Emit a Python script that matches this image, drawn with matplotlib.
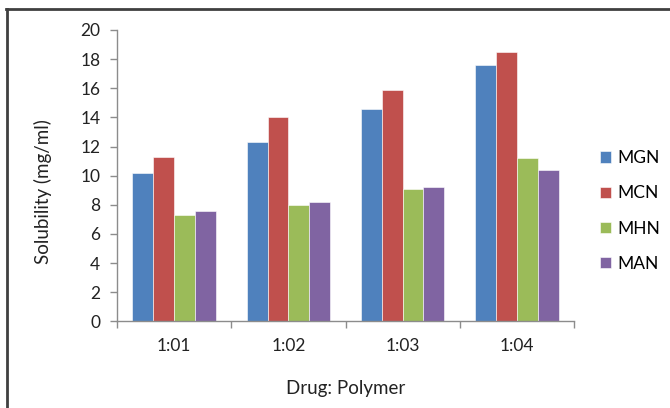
import matplotlib
matplotlib.use("Agg")
import matplotlib.pyplot as plt
import numpy as np
from matplotlib.lines import Line2D

categories = ["1:01", "1:02", "1:03", "1:04"]
series_names = ["MGN", "MCN", "MHN", "MAN"]
MGN = [10.2, 12.3, 14.6, 17.6]
MCN = [11.3, 14.0, 15.9, 18.5]
MHN = [7.3, 8.0, 9.05, 11.2]
MAN = [7.55, 8.2, 9.25, 10.4]
colors = ["#4F81BD", "#C0504D", "#9BBB59", "#8064A2"]
y_ticks = [0, 2, 4, 6, 8, 10, 12, 14, 16, 18, 20]

plt.rcParams['font.family'] = ['Lato', 'DejaVu Sans']

fig = plt.figure(figsize=(6.7, 4.08), dpi=100)
ax = fig.add_axes([117/670, 1-321.3/408, (574-117)/670, (321.3-30)/408])

data = [MGN, MCN, MHN, MAN]
x = np.arange(len(categories))
group_w = 0.73
bw = group_w / 4
for i, (name, vals) in enumerate(zip(series_names, data)):
    ax.bar(x - group_w/2 + bw*(i+0.5), vals, width=bw, color=colors[i],
           label=name, edgecolor='white', linewidth=0.4)

ax.set_xlim(-0.5, len(categories)-0.5)
ax.set_ylim(0, 20)
ax.set_yticks(y_ticks)
ax.set_xticks(x)
ax.set_xticklabels(categories)
ax.set_xticks(np.arange(len(categories)+1)-0.5, minor=True)
ax.tick_params(axis='x', which='major', length=0, pad=12, labelsize=12.5, colors='#222222')
ax.tick_params(axis='x', which='minor', length=5, color='#8c8c8c', width=1)
ax.tick_params(axis='y', length=5, width=1, labelsize=12.5, pad=7, colors='#222222')
ax.tick_params(axis='y', color='#8c8c8c')
for s in ['top', 'right']:
    ax.spines[s].set_visible(False)
for s in ['left', 'bottom']:
    ax.spines[s].set_color('#8c8c8c')
    ax.spines[s].set_linewidth(1)

ax.set_ylabel("Solubility (mg/ml)", fontsize=13.5, color='#222222')
ax.yaxis.set_label_coords(-0.142, 0.447)
ax.set_xlabel("Drug: Polymer", fontsize=13.5, color='#222222', labelpad=19)

leg = ax.legend(loc='center left', bbox_to_anchor=(600/670, 1-211/408),
                bbox_transform=fig.transFigure, frameon=False, fontsize=12.5,
                handlelength=0.65, handleheight=0.65, handletextpad=0.35,
                labelspacing=1.1, borderpad=0, borderaxespad=0)

# figure border (top and left)
fig.add_artist(Line2D([6/670, 1], [1-9/408, 1-9/408], transform=fig.transFigure,
                      color='#404040', linewidth=2))
fig.add_artist(Line2D([7/670, 7/670], [0, 1-9/408], transform=fig.transFigure,
                      color='#404040', linewidth=2))

fig.savefig("out.png", dpi=100)
